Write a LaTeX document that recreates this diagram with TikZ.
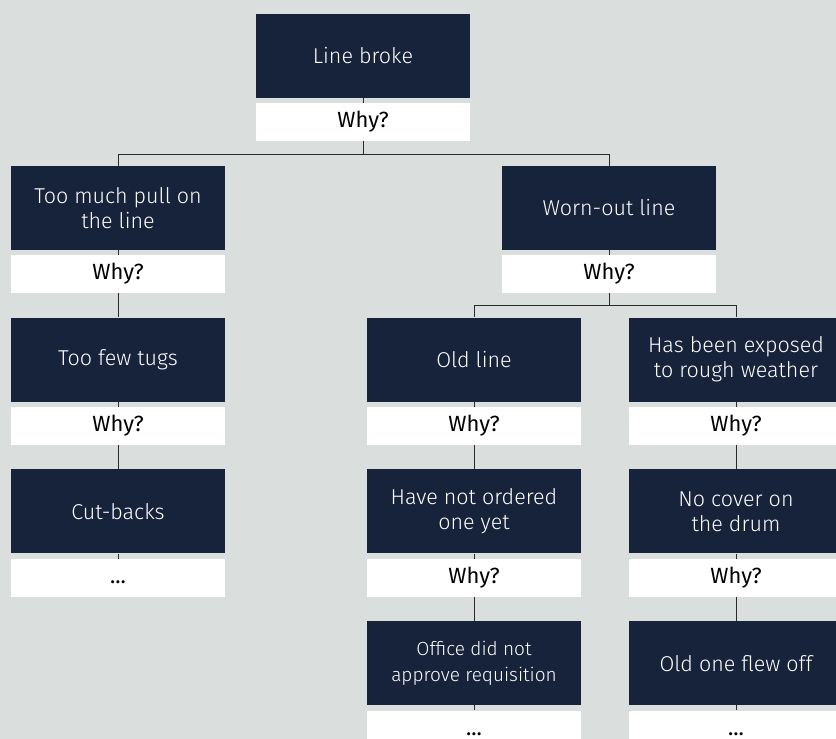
\documentclass[tikz,border=0pt]{standalone}
\usepackage{fontspec}
\setmainfont{Fira Sans Light}
\newfontfamily\whyfont{Fira Sans}
\usepackage{tikz}
\usetikzlibrary{positioning,backgrounds}
\definecolor{wwnavy}{HTML}{17223B}
\definecolor{wwback}{HTML}{DADEDD}
\definecolor{wwline}{HTML}{2A2A2A}

\begin{document}
\begin{tikzpicture}[
  x=1pt, y=1pt,
  font=\fontsize{21.5}{25}\selectfont,
  cause/.style={fill=wwnavy, text=white, minimum width=214pt,
    minimum height=84pt, inner sep=0pt, align=center},
  why/.style={fill=white, text=black, minimum width=214pt,
    minimum height=38pt, inner sep=0pt, align=center,
    text height=15pt, text depth=4pt, font=\whyfont\fontsize{22}{25}\selectfont},
  tail/.style={minimum height=32pt, text height=18pt, text depth=1pt},
  link/.style={draw=wwline, line width=0.9pt},
  ]
  \useasboundingbox (0,0) rectangle (836,-739);
  \clip (0,0) rectangle (836,-739);
  % top
  \node[cause] (broke) at (363,-56) {Line broke};
  \node[why, below=5pt of broke] (why0) {Why?};
  % left branch
  \node[cause, below=24pt of why0, xshift=-245pt] (pull) {Too much pull on\\the line};
  \node[why, below=5pt of pull] (why1) {Why?};
  \node[cause, below=24pt of why1] (tugs) {Too few tugs};
  \node[why, below=5pt of tugs] (why2) {Why?};
  \node[cause, below=24pt of why2] (cuts) {Cut-backs};
  \node[why, below=5pt of cuts] (dots1) {...};
  % right branch
  \node[cause, below=24pt of why0, xshift=246pt] (worn) {Worn-out line};
  \node[why, below=5pt of worn] (why3) {Why?};
  \node[cause, below=24pt of why3, xshift=-135pt] (old) {Old line};
  \node[why, below=5pt of old] (why4) {Why?};
  \node[cause, below=24pt of why4] (order) {Have not ordered\\one yet};
  \node[why, below=5pt of order] (why5) {Why?};
  \node[cause, below=24pt of why5, font=\fontsize{19}{26}\selectfont] (office)
    {Office did not\\approve requisition};
  \node[why, tail, below=5pt of office] (dots2) {...};
  \node[cause, below=24pt of why3, xshift=127pt] (rough) {Has been exposed\\to rough weather};
  \node[why, below=5pt of rough] (why6) {Why?};
  \node[cause, below=24pt of why6] (cover) {No cover on\\the drum};
  \node[why, below=5pt of cover] (why7) {Why?};
  \node[cause, below=24pt of why7] (flew) {Old one flew off};
  \node[why, tail, below=5pt of flew] (dots3) {...};
  % connectors
  \coordinate[below=13pt of why0.south] (fork0);
  \coordinate[below=12pt of why3.south] (fork1);
  \begin{scope}[on background layer]
    \fill[wwback] (0,0) rectangle (836,-739);
    \draw[link] (broke.south) -- (fork0) -| (pull.north);
    \draw[link] (fork0) -| (worn.north);
    \draw[link] (pull) -- (tugs);
    \draw[link] (tugs) -- (cuts);
    \draw[link] (cuts.south) -- (dots1.north);
    \draw[link] (worn.south) -- (fork1) -| (old.north);
    \draw[link] (fork1) -| (rough.north);
    \draw[link] (old) -- (order);
    \draw[link] (order) -- (office);
    \draw[link] (office.south) -- (dots2.north);
    \draw[link] (rough) -- (cover);
    \draw[link] (cover) -- (flew);
    \draw[link] (flew.south) -- (dots3.north);
  \end{scope}
\end{tikzpicture}
\end{document}
